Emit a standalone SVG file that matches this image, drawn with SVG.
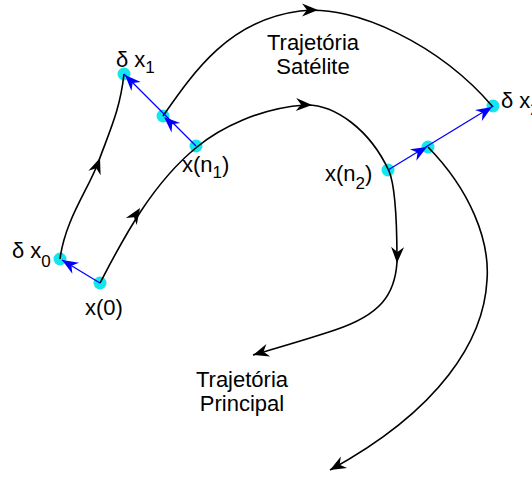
<svg xmlns="http://www.w3.org/2000/svg" xmlns:xlink="http://www.w3.org/1999/xlink" width="532" height="479" viewBox="0 0 532 479">
<style>
.curve{fill:none;stroke:#000;stroke-width:1.6}
.vec{fill:none;stroke:#0000ff;stroke-width:1.3}
.dot{fill:#14e6ee;stroke:none}
.lbl{font-family:"Liberation Sans",Arial,sans-serif;font-size:22px;fill:#000}
.title{font-family:"Liberation Sans",Arial,sans-serif;font-size:22px;fill:#000;text-anchor:middle}
.sub{font-size:17px}
.ahk{fill:#000}
.ahb{fill:#0000ff}
</style>
<defs>
<path id="ah" d="M0,0 L-16,-6.5 L-11,0 L-16,6.5 Z"/>
</defs>
<rect width="532" height="479" fill="#fff"/>

<g id="nodes">
<g id="x0"><circle class="dot" cx="100" cy="283" r="6.5"/><text class="lbl" x="85" y="315">x(0)</text></g>
<g id="dx0"><circle class="dot" cx="60" cy="259" r="6.5"/><text class="lbl" x="12" y="258">δ x<tspan class="sub" dy="9">0</tspan></text></g>
<g id="xn1"><circle class="dot" cx="196" cy="146" r="6.5"/><text class="lbl" x="182" y="172">x(n<tspan class="sub" dy="6">1</tspan><tspan dy="-6">)</tspan></text></g>
<g id="m1"><circle class="dot" cx="163" cy="116" r="6.5"/></g>
<g id="dx1"><circle class="dot" cx="124" cy="74" r="6.5"/><text class="lbl" x="116" y="67">δ x<tspan class="sub" dy="6">1</tspan></text></g>
<g id="xn2"><circle class="dot" cx="388" cy="170" r="6.5"/><text class="lbl" x="325" y="181">x(n<tspan class="sub" dy="8">2</tspan><tspan dy="-8">)</tspan></text></g>
<g id="m2"><circle class="dot" cx="428" cy="147" r="6.5"/></g>
<g id="dx2"><circle class="dot" cx="493" cy="106" r="6.5"/><text class="lbl" x="501" y="108">δ x<tspan class="sub" dy="7">2</tspan></text></g>
</g>

<g id="connectors">
<!-- main trajectory -->
<path class="curve" d="M100,283 C120,245 150,185 197,147 C220,128 260,108 305,105 C335,104 370,130 389,171 C395,185 397,220 397,262 C395,295 380,315 335,330 C305,340 280,347 253,355"/>
<use href="#ah" class="ahk" transform="translate(140,208) rotate(-57)"/>
<use href="#ah" class="ahk" transform="translate(312,105) rotate(2)"/>
<use href="#ah" class="ahk" transform="translate(397,263) rotate(92)"/>
<use href="#ah" class="ahk" transform="translate(253,355) rotate(163)"/>
<!-- satellite trajectory -->
<path class="curve" d="M60,259 C65,220 88,190 98,163 C110,130 120,110 124,74"/>
<use href="#ah" class="ahk" transform="translate(100,158) rotate(-70)"/>
<path class="curve" d="M163,116 C195,70 230,20 300,11 C355,4 440,45 493,107"/>
<use href="#ah" class="ahk" transform="translate(318,10) rotate(0)"/>
<path class="curve" d="M428,147 C470,190 490,240 487,280 C484,340 440,410 330,470"/>
<use href="#ah" class="ahk" transform="translate(330,470) rotate(151)"/>
<!-- perturbation vectors -->
<path class="vec" d="M100,283 L62,260"/>
<use href="#ah" class="ahb" transform="translate(62,260) rotate(211)"/>
<path class="vec" d="M196,146 L124,74"/>
<use href="#ah" class="ahb" transform="translate(164,117) rotate(222)"/>
<use href="#ah" class="ahb" transform="translate(125,75) rotate(226)"/>
<path class="vec" d="M388,170 L493,106"/>
<use href="#ah" class="ahb" transform="translate(427,147) rotate(-30)"/>
<use href="#ah" class="ahb" transform="translate(492,107) rotate(-32)"/>
</g>

<g id="labels">
<text class="title" x="313" y="50">Trajetória</text>
<text class="title" x="313" y="74">Satélite</text>
<text class="title" x="242" y="387">Trajetória</text>
<text class="title" x="242" y="411">Principal</text>
</g>
</svg>
